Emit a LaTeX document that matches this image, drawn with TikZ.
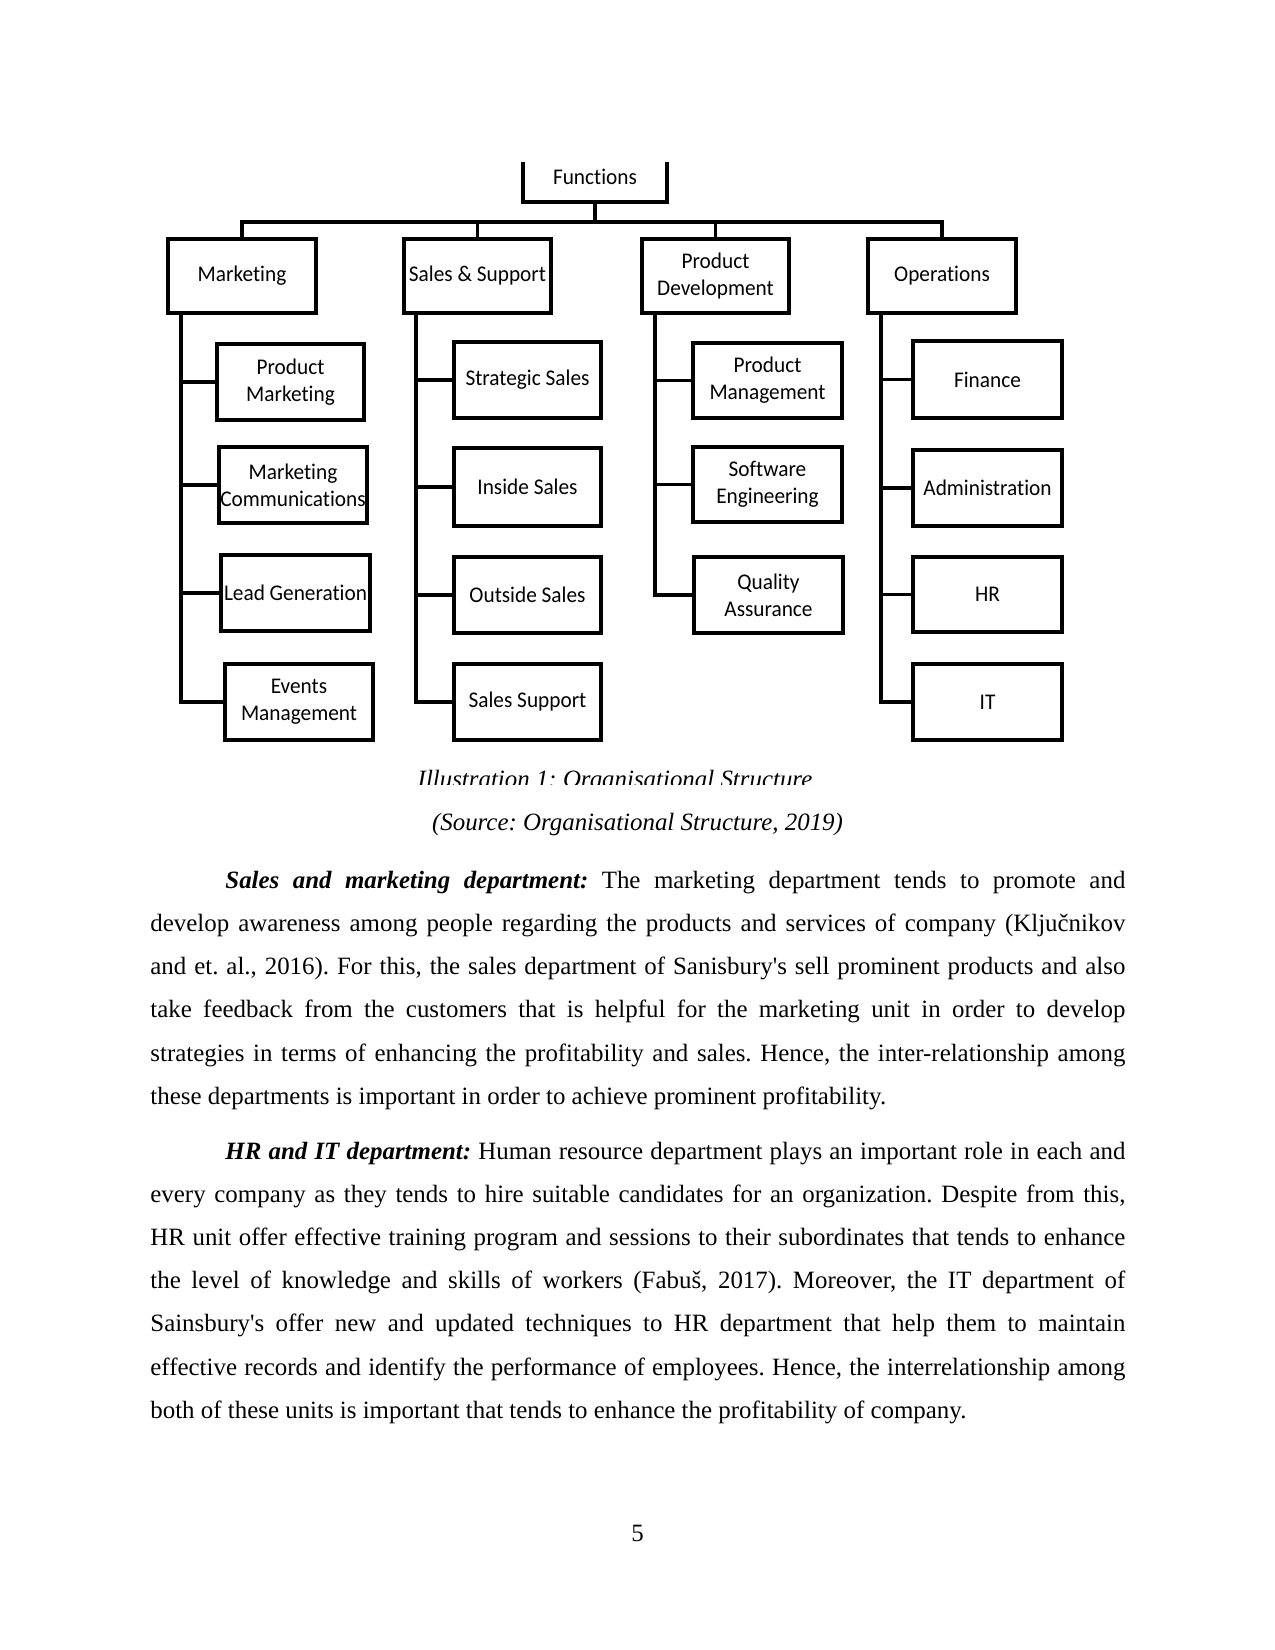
\documentclass[tikz,border=0pt]{standalone}
\usepackage{fontspec}
\setmainfont{Liberation Serif}[Ligatures=TeXOff]
\newfontfamily\diagfont[FakeStretch=0.95,Ligatures={NoCommon,TeXOff}]{Carlito}
\frenchspacing
\newcommand{\orgbox}[6]{%
  \node[bx, minimum width={(#4-#2)*0.48181pt}, minimum height={(#5-#3)*0.48181pt}] (#1) at ({(#2+#4)/2},{(#3+#5)/2}) {#6};}
\begin{document}
\begin{tikzpicture}[x=0.48181pt,y=-0.48181pt,
  bx/.style={draw, line width=1.8pt, inner sep=0pt, align=center,
             font=\diagfont\fontsize{10.8}{13}\selectfont},
  ln/.style={line width=1.8pt, line join=miter},
  body/.style={inner sep=0pt, anchor=base west, font=\fontsize{12}{14.4}\selectfont\frenchspacing},
]
\useasboundingbox (0,0) rectangle (1275,1650);

% --- top box (clipped at top like the source image) ---
\begin{scope}
  \clip (0,162) rectangle (1275,1650);
  \orgbox{fn}{523}{151}{667}{202}{Functions}
\end{scope}

% --- level 1 ---
\orgbox{mkt}{168}{239}{316}{313}{Marketing}
\orgbox{sls}{404}{239}{551}{313}{Sales \& Support}
\orgbox{pdv}{642}{239}{789}{313}{Product\\Development}
\orgbox{ops}{868}{239}{1016}{313}{Operations}

% --- level 2 ---
\orgbox{pmk}{217}{344}{364}{420}{Product\\Marketing}
\orgbox{mcm}{219}{447}{367}{523}{Marketing\\Communications}
\orgbox{lgn}{221}{555}{370}{631}{Lead Generation}
\orgbox{evm}{225}{664}{373}{740}{Events\\Management}

\orgbox{sts}{454}{342}{601}{418}{Strategic Sales}
\orgbox{ins}{454}{448}{601}{526}{Inside Sales}
\orgbox{ous}{454}{557}{601}{633}{Outside Sales}
\orgbox{ssp}{454}{664}{601}{740}{Sales Support}

\orgbox{pmg}{693}{343}{842}{418}{Product\\Management}
\orgbox{swe}{693}{447}{842}{522}{Software\\Engineering}
\orgbox{qas}{694}{557}{843}{633}{Quality\\Assurance}

\orgbox{fin}{913}{341}{1062}{418}{Finance}
\orgbox{adm}{913}{450}{1062}{526}{Administration}
\orgbox{hrr}{913}{557}{1062}{632}{HR}
\orgbox{itt}{913}{664}{1062}{740}{IT}

% --- bus ---
\coordinate (bus) at (0,222);
\draw[ln] (mkt.north) -- (mkt.north |- bus) -- (ops.north |- bus) -- (ops.north);
\draw[ln] (sls.north) -- (sls.north |- bus);
\draw[ln] (pdv.north) -- (pdv.north |- bus);
\draw[ln] (fn.south) -- (fn.south |- bus);

% --- trunks ---
\coordinate (mktT) at ([xshift=7.2pt]mkt.south west);
\coordinate (slsT) at ([xshift=6.8pt]sls.south west);
\coordinate (pdvT) at ([xshift=7.2pt]pdv.south west);
\coordinate (opsT) at ([xshift=7.2pt]ops.south west);

\draw[ln] (mktT) |- (evm.west);
\foreach \c in {pmk,mcm,lgn} \draw[ln] (mktT |- \c.west) -- (\c.west);
\draw[ln] (slsT) |- (ssp.west);
\foreach \c in {sts,ins,ous} \draw[ln] (slsT |- \c.west) -- (\c.west);
\draw[ln] (pdvT) |- (qas.west);
\foreach \c in {pmg,swe} \draw[ln] (pdvT |- \c.west) -- (\c.west);
\draw[ln] (opsT) |- (itt.west);
\foreach \c in {fin,adm,hrr} \draw[ln] (opsT |- \c.west) -- (\c.west);

% --- caption (clipped) ---
\begin{scope}
  \clip (0,760) rectangle (1275,784);
  \node[body, anchor=base] (cap) at (615,787) {\itshape Illustration 1: Organisational Structure};
\end{scope}
\node[body, anchor=base] (src) at (637.5,830) {\itshape (Source: Organisational Structure, 2019)};

% --- paragraph 1 ---
\node[body] (p1a) at (225,888.6) {\makebox[6in][s]{\textbf{\textit{Sales and marketing department:}} The marketing department tends to promote and}};
\node[body] (p1b) at (150,931.7) {\makebox[6.5in][s]{develop awareness among people regarding the products and services of company (Ključnikov}};
\node[body] (p1c) at (150,974.8) {\makebox[6.5in][s]{and et. al., 2016). For this, the sales department of Sanisbury's sell prominent products and also}};
\node[body] (p1d) at (150,1017.9) {\makebox[6.5in][s]{take feedback from the customers that is helpful for the marketing unit in order to develop}};
\node[body] (p1e) at (150,1061) {\makebox[6.5in][s]{strategies in terms of enhancing the profitability and sales. Hence, the inter-relationship among}};
\node[body] (p1f) at (150,1104.1) {these departments is important in order to achieve prominent profitability.};

% --- paragraph 2 ---
\node[body] (p2a) at (225,1159.5) {\makebox[6in][s]{\textbf{\textit{HR and IT department:}} Human resource department plays an important role in each and}};
\node[body] (p2b) at (150,1202.6) {\makebox[6.5in][s]{every company as they tends to hire suitable candidates for an organization. Despite from this,}};
\node[body] (p2c) at (150,1245.7) {\makebox[6.5in][s]{HR unit offer effective training program and sessions to their subordinates that tends to enhance}};
\node[body] (p2d) at (150,1288.8) {\makebox[6.5in][s]{the level of knowledge and skills of workers (Fabuš, 2017). Moreover, the IT department of}};
\node[body] (p2e) at (150,1331.9) {\makebox[6.5in][s]{Sainsbury's offer new and updated techniques to HR department that help them to maintain}};
\node[body] (p2f) at (150,1375) {\makebox[6.5in][s]{effective records and identify the performance of employees. Hence, the interrelationship among}};
\node[body] (p2g) at (150,1418.1) {both of these units is important that tends to enhance the profitability of company.};

% --- page number ---
\node[body, anchor=base] (pg) at (637.5,1541) {5};
\end{tikzpicture}
\end{document}
